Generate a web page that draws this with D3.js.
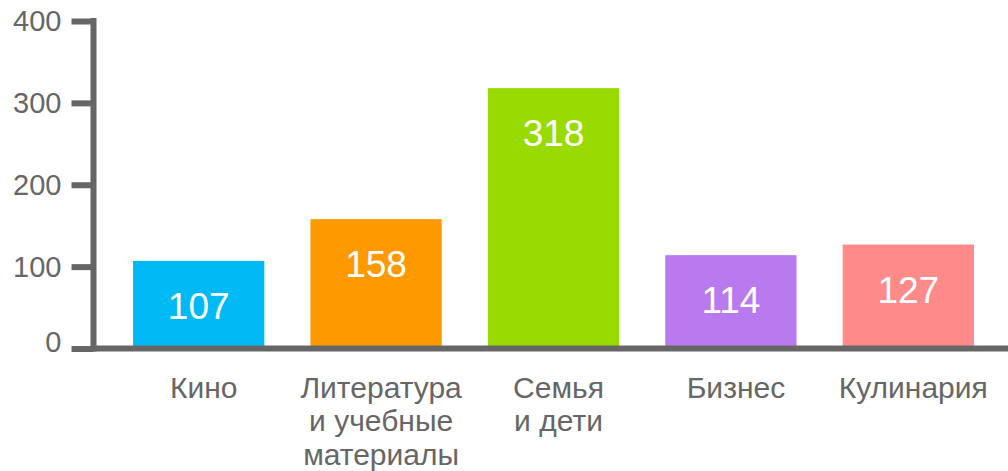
<!DOCTYPE html>
<html>
<head>
<meta charset="utf-8">
<script src="https://cdn.jsdelivr.net/npm/d3@7"></script>
<style>
  body { margin: 0; background: #fff; }
  svg { display: block; font-family: "Liberation Sans", Arial, Helvetica, sans-serif; }
  .tick text { fill: #666; }
</style>
</head>
<body>
<svg width="1008" height="471"></svg>
<script>
// chart data
var categories = ['Кино', 'Литература и учебные материалы', 'Семья и дети', 'Бизнес', 'Кулинария'];
var categoryLines = [['Кино'], ['Литература', 'и учебные', 'материалы'], ['Семья', 'и дети'], ['Бизнес'], ['Кулинария']];
var values = [107, 158, 318, 114, 127];
var colors = ['#00b9f5', '#ff9900', '#99db00', '#b97aef', '#ff8a8a'];
var yTicks = [0, 100, 200, 300, 400];

var svg = d3.select('svg');
var svgWidth = +svg.attr('width');
var axisColor = '#666';

// scales
var yScale = d3.scaleLinear().domain([0, 400]).range([348.5, 21]);
var xScale = d3.scaleBand()
    .domain(categories)
    .range([110, 997])
    .paddingInner(0.26)
    .paddingOuter(0.13);

// bars
svg.append('g')
    .selectAll('rect')
    .data(values)
    .enter()
    .append('rect')
    .attr('x', (d, i) => xScale(categories[i]))
    .attr('y', d => yScale(d))
    .attr('width', xScale.bandwidth())
    .attr('height', d => yScale(0) - yScale(d))
    .attr('fill', (d, i) => colors[i]);

// value labels inside the bars
svg.append('g')
    .selectAll('text')
    .data(values)
    .enter()
    .append('text')
    .attr('x', (d, i) => xScale(categories[i]) + xScale.bandwidth() / 2)
    .attr('y', d => yScale(d) + 58)
    .attr('text-anchor', 'middle')
    .attr('fill', '#fff')
    .style('font-size', '37px')
    .text(d => d);

// y axis
var yAxis = d3.axisLeft(yScale)
    .tickValues(yTicks)
    .tickSize(22)
    .tickSizeOuter(0)
    .tickPadding(10);

var yG = svg.append('g')
    .attr('transform', 'translate(93.5, 0)')
    .call(yAxis);
yG.select('.domain')
    .attr('stroke', axisColor)
    .attr('stroke-width', 6)
    .attr('d', 'M0,' + (yScale(400) - 3) + 'V' + (yScale(0) + 3));
yG.selectAll('.tick line')
    .attr('stroke', axisColor)
    .attr('stroke-width', 6);
yG.selectAll('.tick text')
    .style('font-size', '29px')
    .attr('dy', d => d === 0 ? '0.1em' : '0.33em');

// x baseline
svg.append('line')
    .attr('x1', 90.5)
    .attr('x2', svgWidth)
    .attr('y1', yScale(0))
    .attr('y2', yScale(0))
    .attr('stroke', axisColor)
    .attr('stroke-width', 6);

// category labels, several lines each
var xG = svg.append('g')
    .attr('transform', 'translate(0, ' + yScale(0) + ')')
    .call(d3.axisBottom(xScale).tickSize(0));
xG.select('.domain').remove();
xG.selectAll('.tick text').remove();
xG.selectAll('.tick')
    .append('text')
    .attr('text-anchor', 'middle')
    .attr('fill', '#666')
    .style('font-size', '30px')
    .attr('x', 5)
    .selectAll('tspan')
    .data((d, i) => categoryLines[i])
    .enter()
    .append('tspan')
    .attr('x', 5)
    .attr('y', (d, i) => 49 + i * 33.5)
    .text(d => d);
</script>
</body>
</html>
